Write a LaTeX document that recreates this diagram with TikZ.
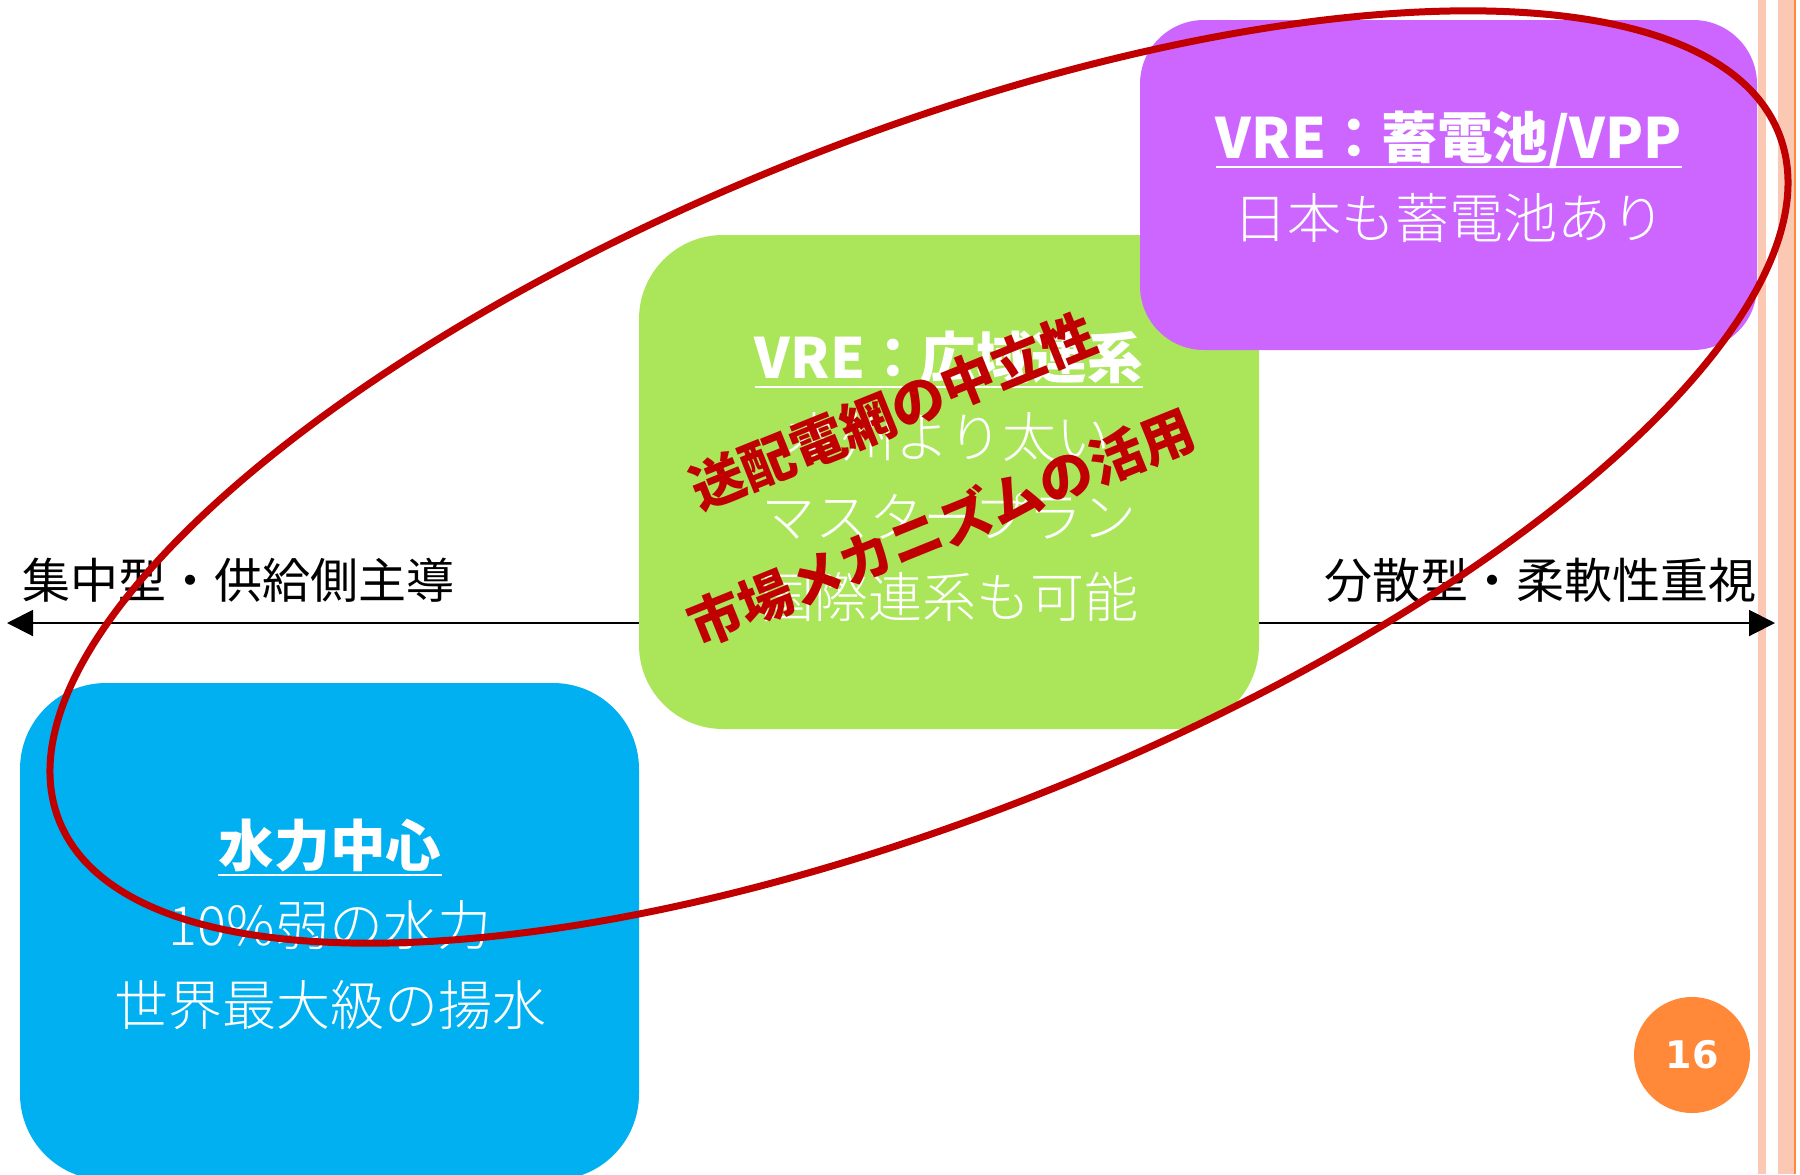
\documentclass[tikz,border=0pt]{standalone}
\usepackage{fontspec}
\setmainfont{Noto Sans CJK JP}
\newfontfamily\lightjp{Noto Sans CJK JP Light}
\newfontfamily\numfont{DejaVu Sans}
\usetikzlibrary{arrows.meta}
\definecolor{vpurple}{HTML}{CC66FF}
\definecolor{vgreen}{HTML}{ABE65A}
\definecolor{vblue}{HTML}{00B0F0}
\definecolor{vred}{HTML}{C00000}
\definecolor{vorange}{HTML}{FF8939}
\definecolor{vsalmon}{HTML}{FBC8B4}
\begin{document}
\begin{tikzpicture}[x=0.5pt,y=-0.5pt,
  boxtext/.style={text=white, font=\lightjp\fontsize{27pt}{30pt}\selectfont, inner sep=0pt, anchor=base},
  boxtitle/.style={text=white, font=\fontsize{27.8pt}{30pt}\selectfont\bfseries, inner sep=0pt, anchor=base},
  axislabel/.style={text=black, font=\fontsize{24pt}{28pt}\selectfont, inner sep=0pt},
  redtext/.style={text=vred, font=\fontsize{27pt}{30pt}\selectfont\bfseries, inner sep=0pt, rotate=22},
  uline/.style={white, line width=1.2pt},
  axisline/.style={line width=1pt, {Triangle[length=13pt,width=13pt]}-{Triangle[length=13pt,width=13pt]}},
  ring/.style={vred, line width=3.5pt},
]
\useasboundingbox (0,0) rectangle (1800,1174);
% right-hand stripes
\fill[vsalmon] (1758,0) rectangle (1766,1174);
\fill[vsalmon] (1778,0) rectangle (1794,1174);
\fill[vorange] (1794,0) rectangle (1796,1174);
% axis
\coordinate (axL) at (7,623);
\coordinate (axR) at (1775,623);
\draw[axisline] (axL) -- (axR);
\node[axislabel, anchor=base west] (labL) at (22,598) {集中型・供給側主導};
\node[axislabel, anchor=base east] (labR) at (1757,598) {分散型・柔軟性重視};
% boxes
\fill[vgreen, rounded corners=42pt] (639,235) rectangle (1259,729);
\fill[vpurple, rounded corners=32pt] (1140,20) rectangle (1757,350);
\fill[vblue, rounded corners=43pt] (20,683) rectangle (639,1180);
% purple text
\node[boxtitle] (pT) at (1449,158) {VRE：蓄電池/VPP};
\draw[uline] ([yshift=-4.5pt]pT.base west) -- ([yshift=-4.5pt]pT.base east);
\node[boxtext] (p1) at (1449,238) {日本も蓄電池あり};
% green text
\node[boxtitle] (gT) at (949,378) {VRE：広域連系};
\draw[uline] ([yshift=-4.5pt]gT.base west) -- ([yshift=-4.5pt]gT.base east);
\node[boxtext] (g1) at (949,457) {本州より太い};
\node[boxtext] (g2) at (949,537) {マスタープラン};
\node[boxtext] (g3) at (949,617) {国際連系も可能};
% blue text
\node[boxtitle] (bT) at (330,866) {水力中心};
\draw[uline] ([yshift=-4.5pt]bT.base west) -- ([yshift=-4.5pt]bT.base east);
\node[boxtext] (b1) at (330,945) {10\%弱の水力};
\node[boxtext] (b2) at (330,1025) {世界最大級の揚水};
% red ellipse
\draw[ring, rotate around={21.8:(919,477)}] (919,477) ellipse [x radius=926, y radius=339];
% red rotated text
\node[redtext] (r1) at (893,411) {送配電網の中立性};
\node[redtext] (r2) at (941,527) {市場メカニズムの活用};
% page number
\node[circle, fill=vorange, minimum size=58pt, inner sep=0pt, text=white, font=\numfont\bfseries\fontsize{19pt}{20pt}\selectfont] (pg) at (1692,1055) {16};
\end{tikzpicture}
\end{document}
